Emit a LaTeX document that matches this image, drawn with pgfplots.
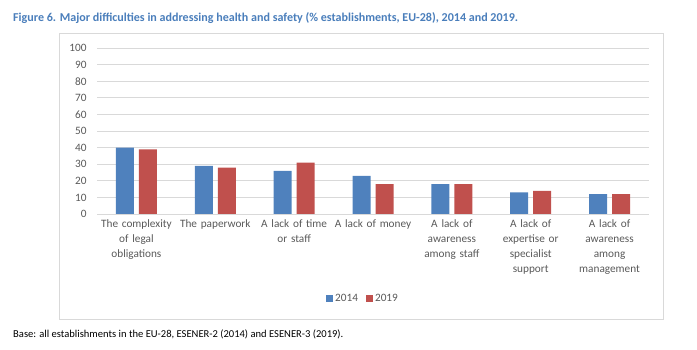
\documentclass[border=0pt]{standalone}
\usepackage{pgfplots}
\pgfplotsset{compat=1.18}
\usepackage{fontspec}
\setmainfont{Carlito}
\definecolor{cblue}{HTML}{4F81BD}
\definecolor{cred}{HTML}{C0504D}
\definecolor{ctitle}{HTML}{4A7EBB}
\definecolor{ctext}{HTML}{595959}
\definecolor{cgrid}{HTML}{D9D9D9}
\begin{document}
\begin{tikzpicture}
\path[use as bounding box] (0,0) rectangle (697bp,350bp);
\node[anchor=base west, inner sep=0, text=ctitle, font=\fontsize{12.1}{13}\selectfont\bfseries] at (13bp,350bp-22bp) {Figure 6. Major difficulties in addressing health and safety (\% establishments, EU-28), 2014 and 2019.};
\draw[cgrid, line width=0.8bp] (59bp,350bp-33bp) rectangle (663bp,350bp-319bp);
\node[anchor=base west, inner sep=0, text=black, font=\fontsize{10.6}{12}\selectfont] at (13bp,350bp-337bp) {Base: all establishments in the EU-28, ESENER-2 (2014) and ESENER-3 (2019).};
\begin{axis}[
  at={(97bp,136bp)}, anchor=south west,
  scale only axis, width=552bp, height=166bp,
  ybar=5bp, bar width=18bp,
  xmin=-0.5, xmax=6.5, ymin=0, ymax=100,
  ytick={0,10,...,100},
  xtick=data,
  xticklabels={{The complexity\\of legal\\obligations},{The paperwork},{A lack of time\\or staff},{A lack of money},{A lack of\\awareness\\among staff},{A lack of\\expertise or\\specialist\\support},{A lack of\\awareness\\among\\management}},
  xticklabel style={align=center, text width=84bp, font=\fontsize{11.3}{15}\selectfont, text=ctext, yshift=-2bp},
  yticklabel style={font=\fontsize{11.3}{12}\selectfont, text=ctext, xshift=-7bp},
  /pgf/number format/assume math mode=true,
  ymajorgrids, grid style={cgrid, line width=0.8bp},
  axis line style={draw=none},
  axis x line*=bottom,
  x axis line style={draw=cgrid, line width=0.8bp},
  major tick length=0,
  legend columns=2,
  legend style={at={(0.482,-0.512)}, anchor=center, draw=none, fill=none, font=\fontsize{11.3}{12}\selectfont, text=ctext, /tikz/every even column/.append style={column sep=6bp}},
  legend image code/.code={\fill[#1] (0bp,-3.5bp) rectangle (7bp,3.5bp);},
]
\addplot[fill=cblue, draw=none] coordinates {(0,40) (1,29) (2,26) (3,23) (4,18) (5,13) (6,12)};
\addplot[fill=cred, draw=none] coordinates {(0,39) (1,28) (2,31) (3,18) (4,18) (5,14) (6,12)};
\legend{2014,2019}
\end{axis}
\end{tikzpicture}
\end{document}
